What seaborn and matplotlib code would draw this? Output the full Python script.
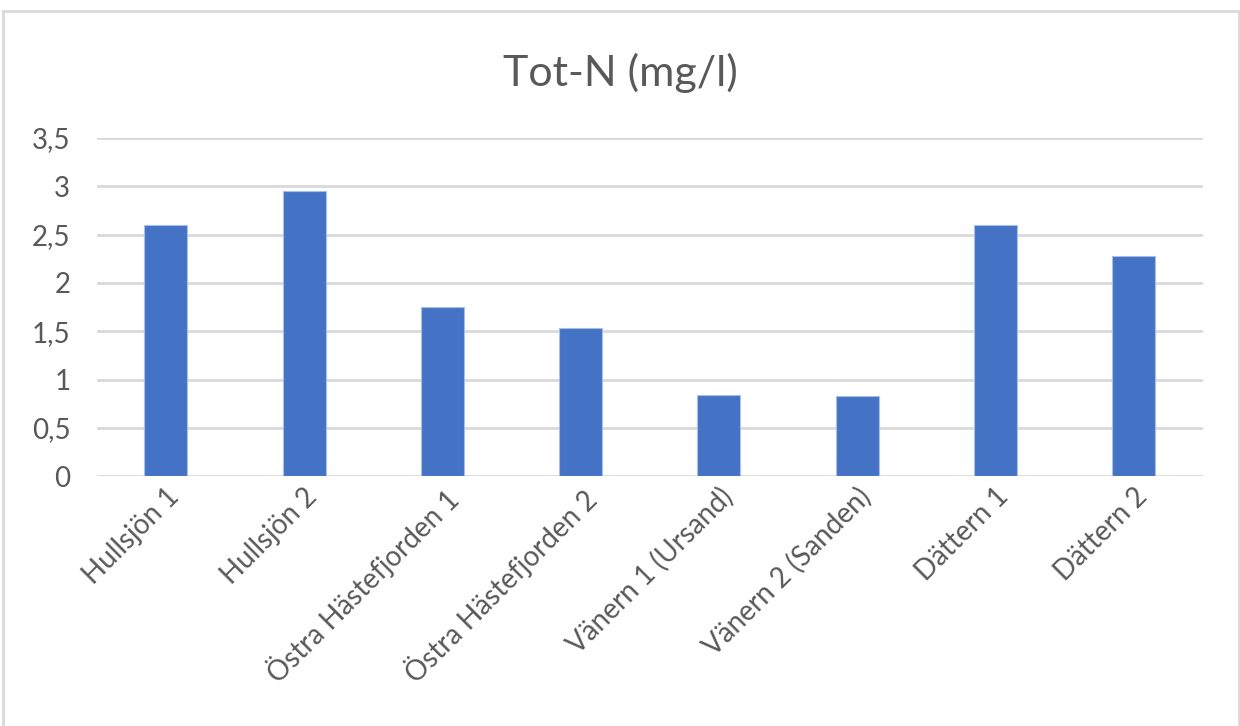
import matplotlib
matplotlib.use("Agg")
import matplotlib.pyplot as plt
import matplotlib.patches as mpatches
from matplotlib.ticker import FuncFormatter
import seaborn as sns
import pandas as pd

stations = ["Hullsjön 1", "Hullsjön 2", "Östra Hästefjorden 1", "Östra Hästefjorden 2",
            "Vänern 1 (Ursand)", "Vänern 2 (Sanden)", "Dättern 1", "Dättern 2"]
tot_n = [2.6, 2.95, 1.75, 1.53, 0.84, 0.83, 2.6, 2.28]
y_ticks = [0, 0.5, 1, 1.5, 2, 2.5, 3, 3.5]

sns.set_theme(style="white")
plt.rcParams["font.family"] = ["Lato", "DejaVu Sans"]

df = pd.DataFrame({"station": stations, "tot_n": tot_n})

fig = plt.figure(figsize=(12.4, 7.26), dpi=100)
ax = fig.add_axes([0.078, 0.344, 0.892, 0.466])

sns.barplot(data=df, x="station", y="tot_n", color="#4472C4", saturation=1,
            width=0.31, edgecolor="#A9BFE6", linewidth=0.8, ax=ax, zorder=3)

ax.set_ylim(0, 3.5)
ax.set_xlim(-0.5, len(stations) - 0.5)
ax.set_yticks(y_ticks)
ax.yaxis.set_major_formatter(FuncFormatter(lambda v, p: f"{v:g}".replace(".", ",")))
ax.grid(axis="y", color="#D9D9D9", linewidth=2, zorder=0)
for s in ax.spines.values():
    s.set_visible(False)
ax.set_xlabel("")
ax.set_ylabel("")
ax.tick_params(axis="y", labelsize=20, labelcolor="#595959", pad=19, length=0)
ax.tick_params(axis="x", labelsize=20, labelcolor="#595959", pad=5, length=0)
plt.setp(ax.get_xticklabels(), rotation=45, ha="right", rotation_mode="anchor")

fig.text(0.5, 0.90, "Tot-N (mg/l)", ha="center", va="center", fontsize=31, color="#595959")

# chart frame
fig.patches.append(mpatches.Rectangle((3 / 1240, -0.01), 1 - 3 / 1240 - 0.001, 1 - 11 / 726 + 0.01,
                                      transform=fig.transFigure, fill=False,
                                      edgecolor="#D9D9D9", linewidth=2))

fig.savefig("out.png", dpi=100, facecolor="white")
